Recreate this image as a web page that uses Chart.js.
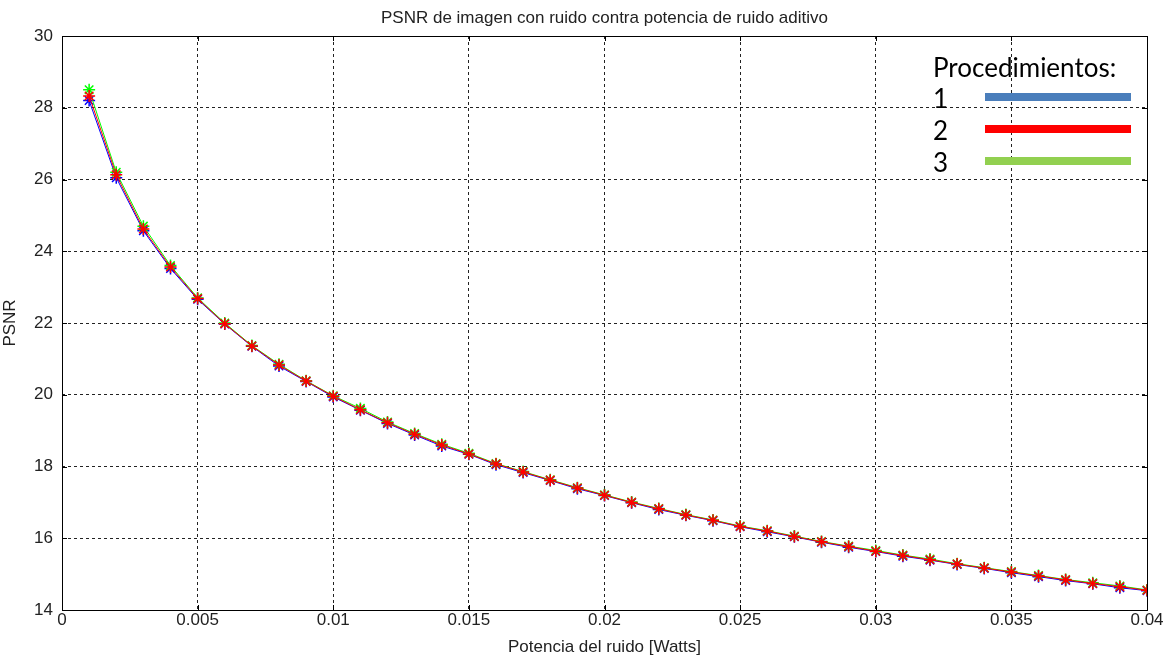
<!DOCTYPE html>
<html>
<head>
<meta charset="utf-8">
<script src="https://cdn.jsdelivr.net/npm/chart.js@4/dist/chart.umd.min.js"></script>
<style>
  html, body { margin: 0; padding: 0; background: #fff; }
  #wrap { width: 1169px; height: 659px; }
</style>
</head>
<body>
<div id="wrap"><canvas id="chart" width="1169" height="659"></canvas></div>
<script>
// noise power (W)
var noisePower = [0.001, 0.002, 0.003, 0.004, 0.005, 0.006, 0.007, 0.008, 0.009, 0.010,
  0.011, 0.012, 0.013, 0.014, 0.015, 0.016, 0.017, 0.018, 0.019, 0.020,
  0.021, 0.022, 0.023, 0.024, 0.025, 0.026, 0.027, 0.028, 0.029, 0.030,
  0.031, 0.032, 0.033, 0.034, 0.035, 0.036, 0.037, 0.038, 0.039, 0.040];
// PSNR for each procedure
var psnr1 = [28.2, 26.05, 24.57, 23.52, 22.66, 21.97, 21.35, 20.8, 20.37, 19.94,
  19.57, 19.2, 18.88, 18.57, 18.34, 18.05, 17.83, 17.61, 17.38, 17.19,
  16.99, 16.8, 16.64, 16.49, 16.32, 16.18, 16.04, 15.89, 15.75, 15.63,
  15.5, 15.39, 15.27, 15.16, 15.04, 14.93, 14.82, 14.73, 14.62, 14.54];
var psnr2 = [28.33, 26.13, 24.62, 23.56, 22.68, 21.98, 21.36, 20.83, 20.38, 19.96,
  19.58, 19.22, 18.9, 18.6, 18.35, 18.07, 17.85, 17.62, 17.4, 17.2,
  17.0, 16.82, 16.65, 16.5, 16.33, 16.2, 16.05, 15.9, 15.77, 15.64,
  15.52, 15.4, 15.28, 15.17, 15.06, 14.95, 14.84, 14.74, 14.65, 14.55];
var psnr3 = [28.5, 26.2, 24.7, 23.6, 22.7, 22.0, 21.37, 20.85, 20.39, 19.97,
  19.62, 19.24, 18.92, 18.62, 18.37, 18.08, 17.86, 17.63, 17.41, 17.21,
  17.01, 16.83, 16.66, 16.51, 16.34, 16.21, 16.06, 15.91, 15.78, 15.66,
  15.53, 15.42, 15.29, 15.18, 15.07, 14.96, 14.85, 14.76, 14.67, 14.56];
var legendTitle = "Procedimientos:";
var legendLabels = ["1", "2", "3"];
var legendColors = ["#4a7ebb", "#ff0000", "#92d050"];

function toPoints(ys) {
  return noisePower.map((x, i) => ({ x: x, y: ys[i] }));
}

function makeSet(label, ys, color, order) {
  return {
    label: label,
    data: toPoints(ys),
    order: order,
    showLine: true,
    borderColor: color,
    backgroundColor: color,
    borderWidth: 1,
    pointStyle: "star",
    pointRadius: 6,
    pointBorderWidth: 1.5,
    pointBorderColor: color,
  };
}

// frame, inner tick marks, title and hand-made legend
const decorations = {
  id: "decorations",
  afterDraw(chart) {
    const c = chart.ctx;
    const a = chart.chartArea;
    const xs = chart.scales.x;
    const ys = chart.scales.y;
    c.save();
    c.strokeStyle = "#000";
    c.lineWidth = 1;
    c.setLineDash([]);
    c.beginPath();
    xs.ticks.forEach((t) => {
      const px = Math.round(xs.getPixelForValue(t.value)) + 0.5;
      c.moveTo(px, a.bottom); c.lineTo(px, a.bottom - 5);
      c.moveTo(px, a.top); c.lineTo(px, a.top + 5);
    });
    ys.ticks.forEach((t) => {
      const py = Math.round(ys.getPixelForValue(t.value)) + 0.5;
      c.moveTo(a.left, py); c.lineTo(a.left + 5, py);
      c.moveTo(a.right, py); c.lineTo(a.right - 5, py);
    });
    c.stroke();
    c.strokeRect(Math.round(a.left) + 0.5, Math.round(a.top) + 0.5,
      Math.round(a.right - a.left), Math.round(a.bottom - a.top));

    // title
    c.fillStyle = "#222";
    c.font = "17px 'Liberation Sans', Arial, sans-serif";
    c.textAlign = "center";
    c.textBaseline = "middle";
    c.fillText("PSNR de imagen con ruido contra potencia de ruido aditivo", (a.left + a.right) / 2, 18);

    // legend
    c.fillStyle = "#000";
    c.textAlign = "left";
    c.textBaseline = "alphabetic";
    c.font = "26px Lato, 'Open Sans', sans-serif";
    c.fillText(legendTitle, a.right - 214, 77);
    legendLabels.forEach((lab, i) => {
      const yy = 97 + i * 32;
      c.fillText(lab, a.right - 214, yy + 11);
      c.fillStyle = legendColors[i];
      c.fillRect(a.right - 162, yy - 4, 146, 8);
      c.fillStyle = "#000";
    });
    c.restore();
  },
};

const tickFont = { family: "'Liberation Sans', Arial, sans-serif", size: 17 };

const ctx = document.getElementById("chart").getContext("2d");
const myChart = new Chart(ctx, {
  type: "scatter",
  data: {
    datasets: [
      makeSet("1", psnr1, "#0000ff", 2),
      makeSet("3", psnr3, "#00ff00", 1),
      makeSet("2", psnr2, "#ff0000", 0),
    ],
  },
  plugins: [decorations],
  options: {
    responsive: false,
    animation: false,
    layout: { padding: { top: 36, right: 22, bottom: 0, left: 0 } },
    plugins: {
      legend: { display: false },
      tooltip: { enabled: false },
    },
    scales: {
      x: {
        type: "linear",
        min: 0,
        max: 0.04,
        afterFit: (s) => { s.height = 49; },
        ticks: {
          stepSize: 0.005,
          padding: 0,
          color: "#222",
          font: tickFont,
          maxRotation: 0,
          callback: (v) => String(parseFloat(v.toFixed(3))),
        },
        grid: { color: "#222", drawTicks: false },
        border: { display: false, dash: [3, 3] },
        title: {
          display: true,
          text: "Potencia del ruido [Watts]",
          color: "#222",
          padding: { top: 0, bottom: 1 },
          font: tickFont,
        },
      },
      y: {
        min: 14,
        max: 30,
        afterFit: (s) => { s.width = 62; },
        ticks: {
          stepSize: 2,
          padding: 9,
          color: "#222",
          font: tickFont,
        },
        grid: { color: "#222", drawTicks: false },
        border: { display: false, dash: [3, 3] },
        title: {
          display: true,
          text: "PSNR",
          color: "#222",
          padding: { top: 0, bottom: 0 },
          font: tickFont,
        },
      },
    },
  },
});
</script>
</body>
</html>
